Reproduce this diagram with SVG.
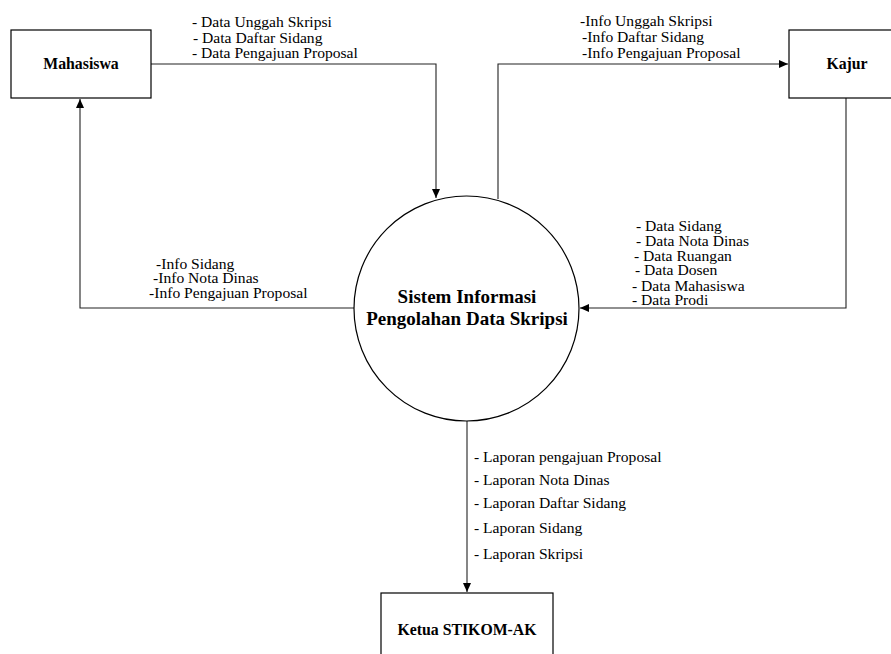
<svg xmlns="http://www.w3.org/2000/svg" width="891" height="654" viewBox="0 0 891 654">
<style>
.box{fill:#fff;stroke:#000;stroke-width:1.2}
.circ{fill:#fff;stroke:#000;stroke-width:1.2}
.conn{fill:none;stroke:#222;stroke-width:1.1}
text{font-family:'Liberation Serif','Times New Roman',Times,serif;fill:#000}
.lbl{font-size:15.6px}
.title{font-size:15.8px;font-weight:bold;text-anchor:middle}
.ctitle{font-size:19px;font-weight:bold;text-anchor:middle}
</style>
<defs>
<marker id="arr" markerUnits="userSpaceOnUse" markerWidth="10" markerHeight="8" refX="9" refY="4" orient="auto">
<path d="M0,0 L9,4 L0,8 z" fill="#000"/>
</marker>
</defs>
<rect width="891" height="654" fill="#fff"/>
<g id="connectors">
<path class="conn" d="M151,64 H436 V198" marker-end="url(#arr)"/>
<path class="conn" d="M498,199 V64 H788" marker-end="url(#arr)"/>
<path class="conn" d="M846,98 V308 H580" marker-end="url(#arr)"/>
<path class="conn" d="M354,308 H80 V99" marker-end="url(#arr)"/>
<path class="conn" d="M467,421 V592" marker-end="url(#arr)"/>
</g>
<g id="labels">
<text class="lbl" x="192" y="27">- Data Unggah Skripsi</text>
<text class="lbl" x="193" y="42.5">- Data Daftar Sidang</text>
<text class="lbl" x="192" y="58">- Data Pengajuan Proposal</text>
<text class="lbl" x="580" y="26">-Info Unggah Skripsi</text>
<text class="lbl" x="582" y="42">-Info Daftar Sidang</text>
<text class="lbl" x="582" y="58">-Info Pengajuan Proposal</text>
<text class="lbl" x="156" y="269">-Info Sidang</text>
<text class="lbl" x="153" y="283">-Info Nota Dinas</text>
<text class="lbl" x="149" y="298">-Info Pengajuan Proposal</text>
<text class="lbl" x="636" y="231">- Data Sidang</text>
<text class="lbl" x="636" y="246">- Data Nota Dinas</text>
<text class="lbl" x="634" y="261">- Data Ruangan</text>
<text class="lbl" x="635" y="275">- Data Dosen</text>
<text class="lbl" x="632" y="290.5">- Data Mahasiswa</text>
<text class="lbl" x="632" y="305">- Data Prodi</text>
<text class="lbl" x="474" y="461.5">- Laporan pengajuan Proposal</text>
<text class="lbl" x="474" y="485">- Laporan Nota Dinas</text>
<text class="lbl" x="474" y="508">- Laporan Daftar Sidang</text>
<text class="lbl" x="474" y="533">- Laporan Sidang</text>
<text class="lbl" x="474" y="559">- Laporan Skripsi</text>
</g>
<g id="node-mahasiswa">
<rect class="box" x="11" y="30" width="140" height="68"/>
<text class="title" x="81" y="69">Mahasiswa</text>
</g>
<g id="node-kajur">
<rect class="box" x="789" y="30" width="120" height="68"/>
<text class="title" x="847" y="69">Kajur</text>
</g>
<g id="node-sistem">
<circle class="circ" cx="466.5" cy="308.5" r="112.5"/>
<text class="ctitle" x="467" y="303">Sistem Informasi</text>
<text class="ctitle" x="467" y="325">Pengolahan Data Skripsi</text>
</g>
<g id="node-ketua">
<rect class="box" x="381" y="593" width="172" height="80"/>
<text class="title" x="467" y="635">Ketua STIKOM-AK</text>
</g>
</svg>
